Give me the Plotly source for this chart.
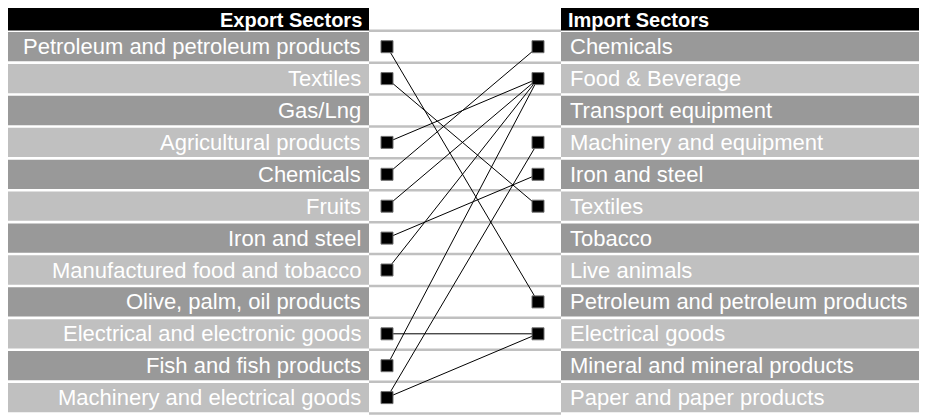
import plotly.graph_objects as go

# Sectores (filas de arriba hacia abajo)
export_sectors = [
    "Petroleum and petroleum products", "Textiles", "Gas/Lng",
    "Agricultural products", "Chemicals", "Fruits", "Iron and steel",
    "Manufactured food and tobacco", "Olive, palm, oil products",
    "Electrical and electronic goods", "Fish and fish products",
    "Machinery and electrical goods",
]
import_sectors = [
    "Chemicals", "Food & Beverage", "Transport equipment",
    "Machinery and equipment", "Iron and steel", "Textiles", "Tobacco",
    "Live animals", "Petroleum and petroleum products", "Electrical goods",
    "Mineral and mineral products", "Paper and paper products",
]
# enlaces export -> import
links = [
    ("Petroleum and petroleum products", "Petroleum and petroleum products"),
    ("Textiles", "Textiles"),
    ("Agricultural products", "Food & Beverage"),
    ("Chemicals", "Chemicals"),
    ("Fruits", "Food & Beverage"),
    ("Iron and steel", "Iron and steel"),
    ("Manufactured food and tobacco", "Food & Beverage"),
    ("Electrical and electronic goods", "Electrical goods"),
    ("Fish and fish products", "Food & Beverage"),
    ("Machinery and electrical goods", "Machinery and equipment"),
    ("Machinery and electrical goods", "Electrical goods"),
]

W, H = 927, 415
OFF = 8  # margen del body de la pagina
LEFT_X0, LEFT_X1 = 3, 369
RIGHT_X0, RIGHT_X1 = 561, 940
MARK_L, MARK_R = 387, 538
FONT = "Liberation Sans, Arial, sans-serif"
FS = 22
FS_HEAD = 20
PITCH = 31.9
Y0 = 14.8  # centro de la cabecera (px de ventana)

fig = go.Figure()
shapes = []
annotations = []

# cabeceras
for x0, x1 in [(LEFT_X0, LEFT_X1), (RIGHT_X0, RIGHT_X1)]:
    shapes.append(dict(type="rect", xref="x", yref="y", x0=x0, x1=x1, y0=-0.5, y1=0.49,
                       fillcolor="black", line=dict(width=0), layer="below"))
annotations.append(dict(x=LEFT_X1 - 5, y=0.16, text="<b>Export Sectors</b>", xanchor="right",
                        showarrow=False, font=dict(color="white", size=FS_HEAD, family=FONT)))
annotations.append(dict(x=RIGHT_X0 + 5, y=0.16, text="<b>Import Sectors</b>", xanchor="left",
                        showarrow=False, font=dict(color="white", size=FS_HEAD, family=FONT)))

# filas
n = len(export_sectors)
for i in range(1, n + 1):
    color = "#999999" if i % 2 == 1 else "#c0c0c0"
    for x0, x1 in [(LEFT_X0, LEFT_X1), (RIGHT_X0, RIGHT_X1)]:
        shapes.append(dict(type="rect", xref="x", yref="y", x0=x0, x1=x1, y0=i - 0.46, y1=i + 0.46,
                           fillcolor=color, line=dict(width=0), layer="below"))
    annotations.append(dict(x=LEFT_X1 - 6, y=i, text=export_sectors[i - 1], xanchor="right",
                            showarrow=False, font=dict(color="white", size=FS, family=FONT)))
    annotations.append(dict(x=RIGHT_X0 + 7, y=i, text=import_sectors[i - 1], xanchor="left",
                            showarrow=False, font=dict(color="white", size=FS, family=FONT)))

# separadores del centro
for b in [-0.43] + [i + 0.5 for i in range(0, n + 1)]:
    shapes.append(dict(type="line", xref="x", yref="y", x0=LEFT_X1, x1=RIGHT_X0, y0=b, y1=b,
                       line=dict(color="#c0c0c0", width=2.5), layer="below"))

# lineas de enlace
lx, ly = [], []
for e, m in links:
    lx += [MARK_L, MARK_R, None]
    ly += [export_sectors.index(e) + 1, import_sectors.index(m) + 1, None]
fig.add_trace(go.Scatter(x=lx, y=ly, mode="lines", line=dict(color="black", width=1),
                         hoverinfo="skip"))

# marcadores
left_rows = sorted({export_sectors.index(e) + 1 for e, _ in links})
right_rows = sorted({import_sectors.index(m) + 1 for _, m in links})
fig.add_trace(go.Scatter(x=[MARK_L] * len(left_rows), y=left_rows, mode="markers",
                         marker=dict(symbol="square", size=12, color="black",
                                     line=dict(color="#707070", width=1))))
fig.add_trace(go.Scatter(x=[MARK_R] * len(right_rows), y=right_rows, mode="markers",
                         marker=dict(symbol="square", size=12, color="black",
                                     line=dict(color="#707070", width=1))))

# rango en pixeles de ventana (la figura empieza en OFF,OFF)
y_top = (OFF - Y0) / PITCH
y_bot = (OFF + H - Y0) / PITCH

fig.update_layout(
    width=W, height=H, margin=dict(l=0, r=0, t=0, b=0),
    paper_bgcolor="white", plot_bgcolor="white", showlegend=False,
    shapes=shapes, annotations=annotations,
    xaxis=dict(range=[OFF, OFF + W], visible=False, fixedrange=True),
    yaxis=dict(range=[y_bot, y_top], visible=False, fixedrange=True),
)

fig.write_html("out.html")
